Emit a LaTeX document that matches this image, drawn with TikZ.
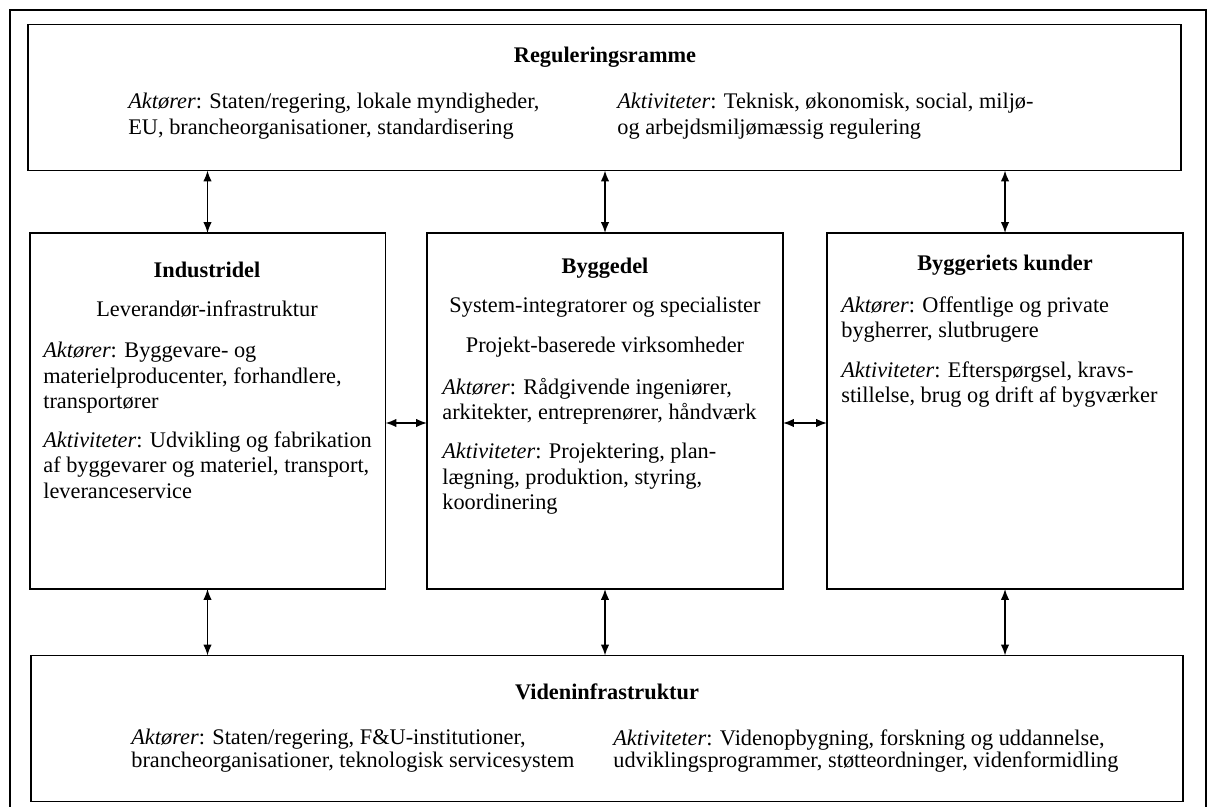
\documentclass[tikz,border=0pt]{standalone}
\usepackage{fontspec}
\setmainfont{Liberation Serif}
\usetikzlibrary{arrows.meta}

\begin{document}
\begin{tikzpicture}[x=0.02cm, y=-0.02cm,
    box/.style={draw, line width=1.1pt, inner sep=0pt, outer sep=0pt},
    wide/.style={box, minimum width=23.05cm, minimum height=2.92cm},
    part/.style={box, minimum width=7.12cm, minimum height=7.12cm},
    title/.style={font=\fontsize{12.7}{14.5}\selectfont\bfseries, inner sep=0pt},
    sub/.style={font=\fontsize{12.7}{14.5}\selectfont, inner sep=0pt},
    body/.style={font=\fontsize{12.7}{14.5}\selectfont, align=left, anchor=north west, inner sep=0pt},
    link/.style={arrows={Latex[length=2.2mm,width=1.7mm]-Latex[length=2.2mm,width=1.7mm]}, line width=0.85pt},
    frame/.style={line width=0.9pt}
  ]
    \useasboundingbox (0,0) rectangle (1209,807);
    \draw[frame] (10,807) -- (10,10) -- (1206,10) -- (1206,807);

    \node[wide] (reg) at (604.5,97.5) {};
    \node[part] (ind) at (207.5,411) {};
    \node[part] (byg) at (605,411) {};
    \node[part] (kun) at (1005,411) {};
    \node[wide] (vid) at (607,728.5) {};

    \node[title] (regtitle) at (605,57) {Reguleringsramme};
    \node[body] (regakt) at (128,93) {\textit{Aktører}: Staten/regering, lokale myndigheder,\\EU, brancheorganisationer, standardisering};
    \node[body] (regaktiv) at (617,93) {\textit{Aktiviteter}: Teknisk, økonomisk, social, miljø-\\og arbejdsmiljømæssig regulering};

    \node[title] (indtitle) at (207,270) {Industridel};
    \node[sub] (indsub) at (207,309) {Leverandør-infrastruktur};
    \node[body] (indtxt) at (43,342) {\textit{Aktører}: Byggevare- og\\materielproducenter, forhandlere,\\transportører\\[7.5pt]\textit{Aktiviteter}: Udvikling og fabrikation\\af byggevarer og materiel, transport,\\leveranceservice};

    \node[title] (bygtitle) at (605,268) {Byggedel};
    \node[sub] (bygsub) at (605,307) {System-integratorer og specialister};
    \node[sub] (bygsubb) at (605,347) {Projekt-baserede virksomheder};
    \node[body] (bygtxt) at (442,378) {\textit{Aktører}: Rådgivende ingeniører,\\arkitekter, entreprenører, håndværk\\[7.5pt]\textit{Aktiviteter}: Projektering, plan-\\lægning, produktion, styring,\\koordinering};

    \node[title] (kuntitle) at (1005,265) {Byggeriets kunder};
    \node[body] (kuntxt) at (841,296) {\textit{Aktører}: Offentlige og private\\bygherrer, slutbrugere\\[8pt]\textit{Aktiviteter}: Efterspørgsel, kravs-\\stillelse, brug og drift af bygværker};

    \node[title] (vidtitle) at (607,692) {Videninfrastruktur};
    \node[body] (vidakt) at (131,729) {\textit{Aktører}: Staten/regering, F\&U-institutioner,\\[-1.5pt]brancheorganisationer, teknologisk servicesystem};
    \node[body] (vidaktiv) at (613,729) {\textit{Aktiviteter}: Videnopbygning, forskning og uddannelse,\\[-1.5pt]udviklingsprogrammer, støtteordninger, videnformidling};

    \draw[link] (reg.south -| ind.north) -- (ind.north);
    \draw[link] (reg.south -| byg.north) -- (byg.north);
    \draw[link] (reg.south -| kun.north) -- (kun.north);
    \draw[link] ([yshift=-2.4mm]ind.east) -- ([yshift=-2.4mm]byg.west);
    \draw[link] ([yshift=-2.4mm]byg.east) -- ([yshift=-2.4mm]kun.west);
    \draw[link] (ind.south) -- (ind.south |- vid.north);
    \draw[link] (byg.south) -- (byg.south |- vid.north);
    \draw[link] (kun.south) -- (kun.south |- vid.north);
\end{tikzpicture}
\end{document}
